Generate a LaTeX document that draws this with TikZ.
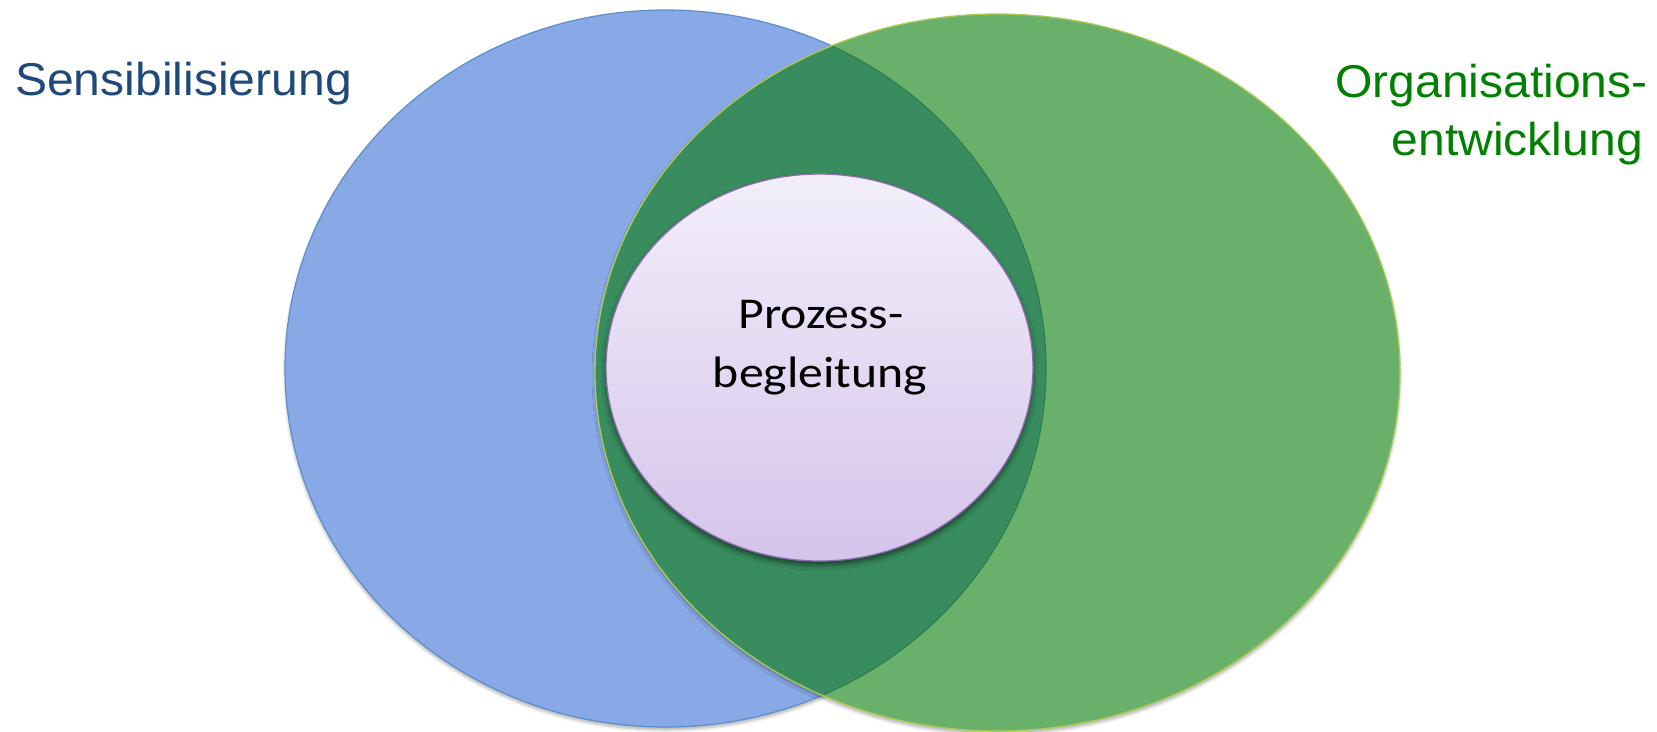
\documentclass[tikz,border=0pt]{standalone}
\usepackage{fontspec}
\setmainfont{Liberation Sans}
\newfontfamily\calibrifont{Carlito}
\usetikzlibrary{shadows.blur}
\definecolor{blueFill}{HTML}{88A8E6}
\definecolor{blueLine}{HTML}{5A8FCB}
\definecolor{greenFill}{HTML}{69B06A}
\definecolor{greenLine}{HTML}{AECB55}
\definecolor{overlapFill}{HTML}{388C5E}
\definecolor{overlapLine}{HTML}{2F7E50}
\definecolor{innerTop}{HTML}{F2EEFA}
\definecolor{innerBot}{HTML}{D5C4EB}
\definecolor{innerLine}{HTML}{8E6EB2}
\definecolor{sensText}{HTML}{1F497D}
\definecolor{orgText}{HTML}{008000}
\tikzset{
  lbl/.style={inner sep=0pt, xscale=1.045, font=\fontsize{46}{58}\selectfont},
  inlbl/.style={inner sep=0pt, xscale=1.13, align=center, font=\calibrifont\fontsize{44}{59}\selectfont},
}
\begin{document}
\begin{tikzpicture}[x=1pt,y=-1pt]
\useasboundingbox (0,0) rectangle (1657,731);
\coordinate (bc) at (665.5,368.5);
\coordinate (gc) at (997.5,372.5);
\coordinate (ic) at (819.5,367.5);
% blue circle
\fill[blueFill, blur shadow={shadow xshift=0pt, shadow yshift=-3pt, shadow blur radius=3pt, shadow opacity=30}] (bc) ellipse [x radius=380.5, y radius=358.5];
\draw[blueLine, line width=1.2pt] (bc) ellipse [x radius=380.5, y radius=358.5];
% green circle
\fill[greenFill, blur shadow={shadow xshift=0pt, shadow yshift=-3pt, shadow blur radius=3pt, shadow opacity=30}] (gc) ellipse [x radius=402.5, y radius=358.5];
% overlap
\begin{scope}
  \clip (gc) ellipse [x radius=402.5, y radius=358.5];
  \fill[overlapFill] (bc) ellipse [x radius=380.5, y radius=358.5];
  \draw[overlapLine, line width=1.2pt] (bc) ellipse [x radius=380.5, y radius=358.5];
\end{scope}
\draw[greenLine, line width=1.3pt] (gc) ellipse [x radius=402.5, y radius=358.5];
% inner
\shade[top color=innerTop, bottom color=innerBot, blur shadow={shadow xshift=0pt, shadow yshift=-4pt, shadow blur radius=5pt, shadow opacity=55}] (ic) ellipse [x radius=213.5, y radius=193.5];
\draw[innerLine, line width=1.3pt] (ic) ellipse [x radius=213.5, y radius=193.5];
% labels
\node[lbl, text=sensText, anchor=base west] (sens) at (15,95) {Sensibilisierung};
\node[lbl, text=orgText, anchor=base east] (org1) at (1648,97) {Organisations-};
\node[lbl, text=orgText, anchor=base east] (org2) at (1643,155) {entwicklung};
\node[inlbl, anchor=base] (pb1) at (821,328) {Prozess-};
\node[inlbl, anchor=base] (pb2) at (820,387) {begleitung};
\end{tikzpicture}
\end{document}
